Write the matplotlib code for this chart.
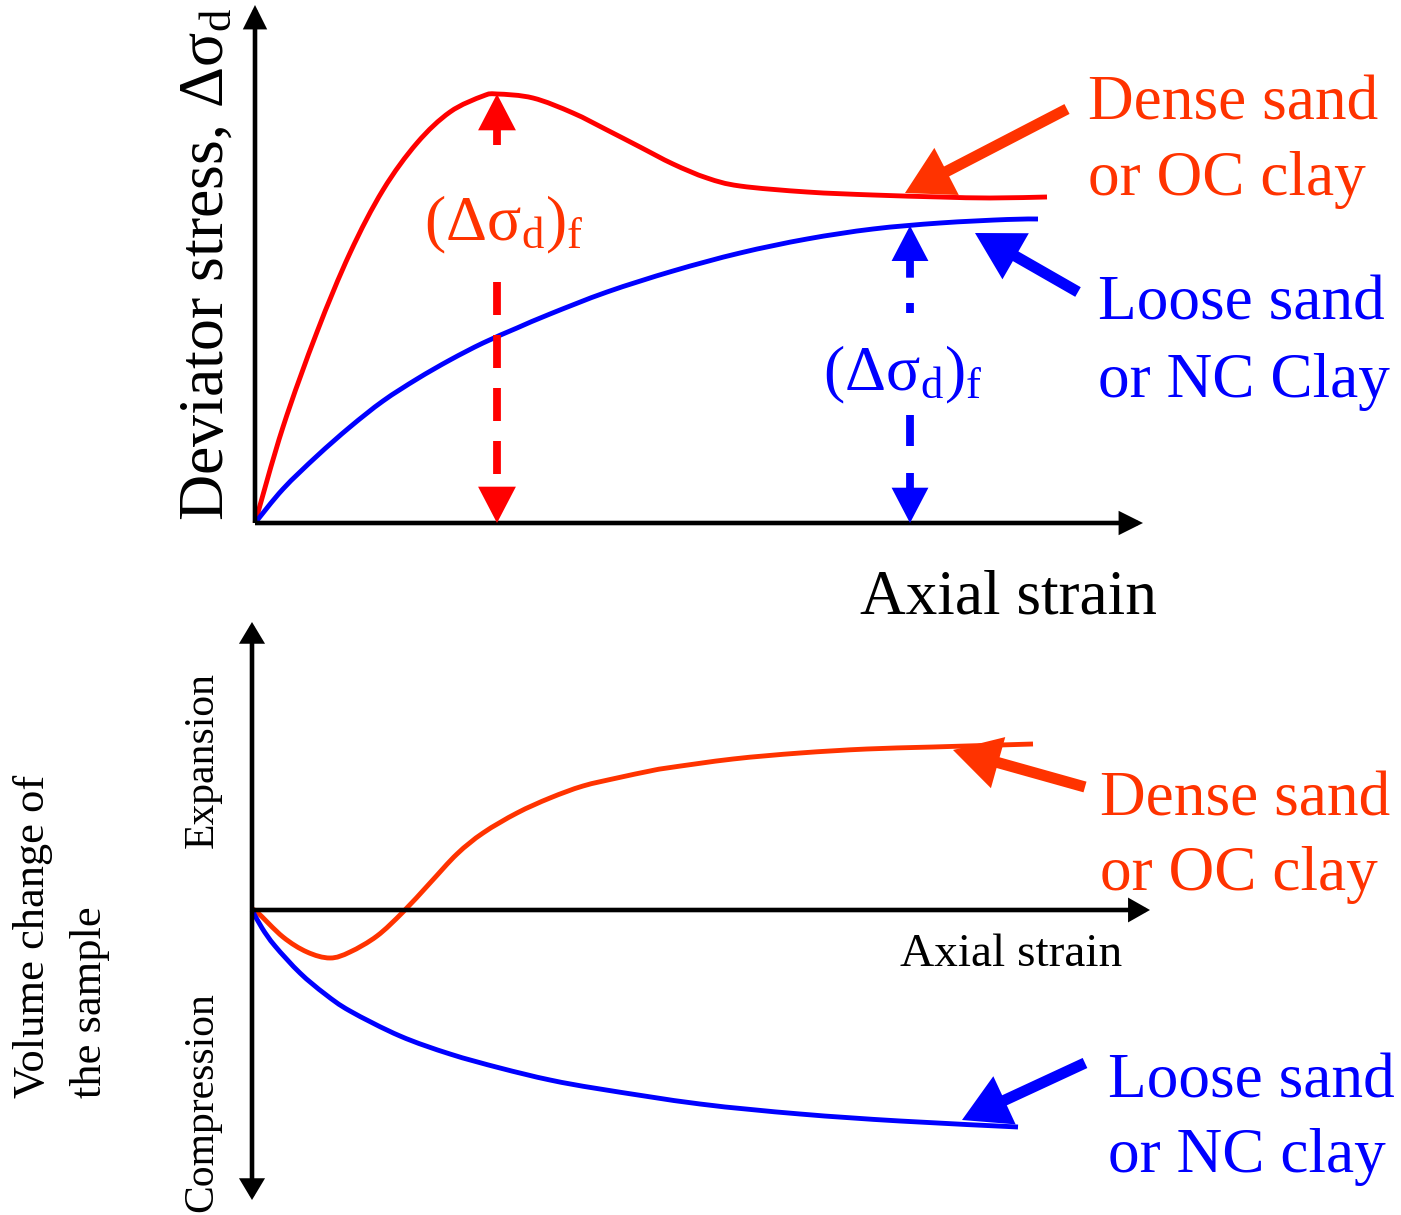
import matplotlib
matplotlib.use('Agg')
import matplotlib.pyplot as plt
from matplotlib.path import Path
from matplotlib.patches import PathPatch
import numpy as np

plt.rcParams['font.family'] = ['Liberation Serif', 'DejaVu Serif']
plt.rcParams['mathtext.fontset'] = 'custom'
plt.rcParams['mathtext.rm'] = 'Liberation Serif'
plt.rcParams['mathtext.it'] = 'Liberation Serif:italic'
plt.rcParams['mathtext.bf'] = 'Liberation Serif:bold'
plt.rcParams['lines.scale_dashes'] = False

# ---------------- data ----------------
# Top panel: deviator stress vs axial strain
dense_strain = [0, 0.28, 0.62, 0.95, 1.28, 1.62, 1.95, 2.28, 2.42, 2.78, 3.18, 3.52,
                3.85, 4.18, 4.52, 4.85, 5.52, 6.18, 6.85, 7.35, 7.92]
dense_stress = [0, 0.96, 1.91, 2.70, 3.33, 3.80, 4.11, 4.27, 4.29, 4.25, 4.10, 3.93,
                3.76, 3.59, 3.45, 3.37, 3.31, 3.28, 3.26, 3.25, 3.26]
loose_strain = [0, 0.28, 0.62, 0.95, 1.28, 1.62, 1.95, 2.28, 2.62, 2.95, 3.52, 4.18,
                4.85, 5.52, 6.18, 6.85, 7.52, 7.83]
loose_stress = [0, 0.34, 0.67, 0.96, 1.22, 1.44, 1.63, 1.80, 1.95, 2.09, 2.31, 2.52,
                2.70, 2.84, 2.94, 3.00, 3.035, 3.04]
loose_fail_strain = 6.55

# Bottom panel: volume change vs axial strain
dense_vol_strain = [0, 0.05, 0.31, 0.55, 0.78, 0.98, 1.25, 1.51, 1.78, 2.05, 2.31, 2.65,
                    2.98, 3.31, 3.65, 3.98, 4.15, 4.81, 5.48, 6.15, 6.81, 7.81]
dense_vol = [0, -0.02, -0.27, -0.42, -0.48, -0.42, -0.26, -0.02, 0.27, 0.56, 0.77, 0.97,
             1.12, 1.24, 1.32, 1.39, 1.42, 1.51, 1.57, 1.61, 1.63, 1.66]
loose_vol_strain = [0, 0.10, 0.23, 0.48, 0.73, 0.98, 1.48, 1.98, 2.48, 2.98, 3.48,
                    4.48, 5.48, 6.48, 7.66]
loose_vol = [0, -0.18, -0.36, -0.63, -0.84, -1.01, -1.26, -1.44, -1.58, -1.70, -1.79,
             -1.94, -2.04, -2.11, -2.17]

RED = '#FF0000'
ORANGE = '#FF3300'
BLUE = '#0000FF'
BLACK = '#000000'

fig = plt.figure(figsize=(14.01, 12.15), dpi=100)
ax1 = fig.add_axes([0, 1 - 600 / 1215, 1, 600 / 1215])
ax1.set_xlim(-2.55, 11.46)
ax1.set_ylim(-0.77, 5.23)
ax1.axis('off')

ax2 = fig.add_axes([0, 0, 1, 615 / 1215])
ax2.set_xlim(-2.52, 11.49)
ax2.set_ylim(-3.05, 3.10)
ax2.axis('off')

PX = 0.72  # points per pixel


def arrow(ax, start, end, color, lw, hl, hw, style='-|>'):
    ax.annotate('', xy=end, xytext=start,
                arrowprops=dict(arrowstyle=f'{style},head_length={hl*PX},head_width={hw*PX/2}',
                                color=color, lw=lw, shrinkA=0, shrinkB=0,
                                mutation_scale=1, joinstyle='miter', capstyle='butt'))


def smooth_curve(ax, xs, ys, color, lw):
    """Smooth curve through the read points, drawn as a Bezier path in data coords."""
    p = np.column_stack([xs, ys]).astype(float)
    n = len(p)
    verts = [p[0]]
    codes = [Path.MOVETO]
    for i in range(n - 1):
        p0 = p[i - 1] if i > 0 else p[i]
        p1 = p[i]
        p2 = p[i + 1]
        p3 = p[i + 2] if i + 2 < n else p[i + 1]
        c1 = p1 + (p2 - p0) / 6.0
        c2 = p2 - (p3 - p1) / 6.0
        verts += [c1, c2, p2]
        codes += [Path.CURVE4] * 3
    patch = PathPatch(Path(verts, codes), facecolor='none', edgecolor=color, lw=lw,
                      capstyle='butt', joinstyle='round')
    ax.add_patch(patch)


# ---------------- top panel ----------------
arrow(ax1, (0, 0), (0, 5.18), BLACK, 3.3, 17, 17)
arrow(ax1, (0, 0), (8.88, 0), BLACK, 3.3, 17, 17)

smooth_curve(ax1, dense_strain, dense_stress, RED, 3.5)
smooth_curve(ax1, loose_strain, loose_stress, BLUE, 3.5)

# dense: dashed arrow at peak
ipk = int(np.argmax(dense_stress))
xd, yd = dense_strain[ipk], dense_stress[ipk]
arrow(ax1, (xd, yd - 0.51), (xd, yd), RED, 5.6, 24, 25)
ax1.plot([xd, xd], [yd - 1.88, 0.28], color=RED, lw=5.6, dashes=(33 * PX, 20 * PX),
         solid_capstyle='butt', dash_capstyle='butt')
arrow(ax1, (xd, 0.24), (xd, 0), RED, 5.6, 24, 25)
ax1.text(xd + 0.07, yd - 1.46, r'$\mathrm{(Δσ_d)_f}$', color=ORANGE, fontsize=46,
         ha='center', va='baseline')

# loose: dash-dot arrow at failure
xl = loose_fail_strain
yl = float(np.interp(xl, loose_strain, loose_stress))
arrow(ax1, (xl, yl - 0.52), (xl, yl), BLUE, 5.6, 23, 24)
ax1.plot([xl, xl], [yl - 0.77, yl - 0.87], color=BLUE, lw=5.6, solid_capstyle='butt')
ax1.plot([xl, xl], [yl - 1.89, yl - 2.20], color=BLUE, lw=5.6, solid_capstyle='butt')
arrow(ax1, (xl, 0.50), (xl, 0), BLUE, 5.6, 23, 24)
ax1.text(xl - 0.07, 1.33, r'$\mathrm{(Δσ_d)_f}$', color=BLUE, fontsize=46,
         ha='center', va='baseline')

# pointer arrows
arrow(ax1, (8.12, 4.14), (6.50, 3.30), ORANGE, 8, 30, 34)
arrow(ax1, (8.23, 2.31), (7.20, 2.90), BLUE, 8, 30, 34)

ax1.text(8.33, 4.03, 'Dense sand', color=ORANGE, fontsize=45.5, ha='left', va='baseline')
ax1.text(8.33, 3.28, 'or OC clay', color=ORANGE, fontsize=45.5, ha='left', va='baseline')
ax1.text(8.43, 2.03, 'Loose sand', color=BLUE, fontsize=45.5, ha='left', va='baseline')
ax1.text(8.43, 1.26, 'or NC Clay', color=BLUE, fontsize=45.5, ha='left', va='baseline')

ax1.text(6.05, -0.90, 'Axial strain', color=BLACK, fontsize=45.5, ha='left', va='baseline')
ax1.text(-0.47, 0.02, r'Deviator stress, $\mathrm{Δσ_d}$', color=BLACK, fontsize=46,
         rotation=90, ha='center', va='bottom')

# ---------------- bottom panel ----------------
arrow(ax2, (0, 0), (0, 2.88), BLACK, 3.3, 15, 18)
arrow(ax2, (0, 0), (0, -2.90), BLACK, 3.3, 15, 18)
arrow(ax2, (0, 0), (8.98, 0), BLACK, 3.3, 15, 17)

smooth_curve(ax2, dense_vol_strain, dense_vol, ORANGE, 3.5)
smooth_curve(ax2, loose_vol_strain, loose_vol, BLUE, 3.5)

arrow(ax2, (8.33, 1.23), (7.01, 1.60), ORANGE, 8, 30, 34)
arrow(ax2, (8.33, -1.53), (7.10, -2.10), BLUE, 8, 30, 34)

ax2.text(8.48, 0.95, 'Dense sand', color=ORANGE, fontsize=45.5, ha='left', va='baseline')
ax2.text(8.48, 0.20, 'or OC clay', color=ORANGE, fontsize=45.5, ha='left', va='baseline')
ax2.text(8.56, -1.87, 'Loose sand', color=BLUE, fontsize=45.5, ha='left', va='baseline')
ax2.text(8.56, -2.62, 'or NC clay', color=BLUE, fontsize=45.5, ha='left', va='baseline')

ax2.text(7.59, -0.56, 'Axial strain', color=BLACK, fontsize=34, ha='center', va='baseline')

ax2.text(-0.50, 1.50, 'Expansion', color=BLACK, fontsize=30, rotation=90,
         ha='center', va='center')
ax2.text(-0.50, -1.92, 'Compression', color=BLACK, fontsize=30, rotation=90,
         ha='center', va='center')
ax2.text(-2.19, -1.88, 'Volume change of', color=BLACK, fontsize=32, rotation=90,
         ha='center', va='bottom')
ax2.text(-1.62, -1.88, 'the sample', color=BLACK, fontsize=32, rotation=90,
         ha='center', va='bottom')

fig.savefig('out.png', dpi=100, facecolor='white')
